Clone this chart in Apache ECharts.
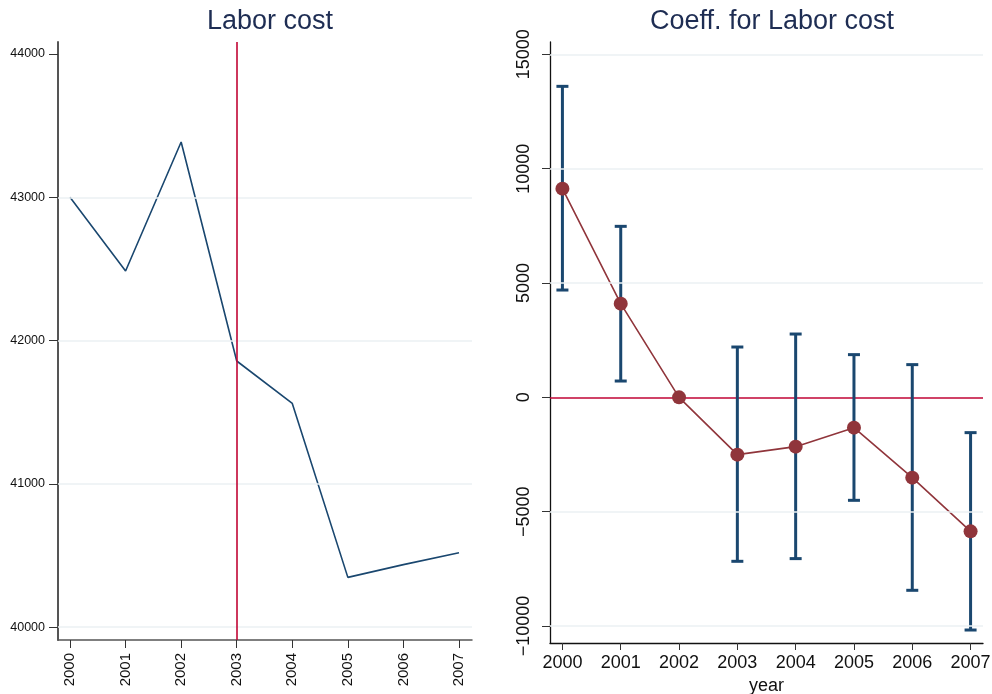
<!DOCTYPE html>
<html>
<head>
<meta charset="utf-8">
<script src="https://cdn.jsdelivr.net/npm/echarts@6/dist/echarts.min.js"></script>
<style>
  html, body { margin: 0; padding: 0; background: #fff; }
  #chart { width: 992px; height: 694px; }
</style>
</head>
<body>
<div id="chart"></div>
<script>
// Yearly categories shared by both panels
const years = [2000, 2001, 2002, 2003, 2004, 2005, 2006, 2007];

// Left panel: average labor cost per year
const laborCost = [43000, 42486, 43386, 41858, 41562, 40348, 40437, 40520];
const laborTicks = [40000, 41000, 42000, 43000, 44000];
const laborGrid = [40000, 41000, 42000, 43000];
const treatYear = 2003;

// Right panel: event-study coefficients with 95% confidence bounds
const coef  = [9125, 4097, 0, -2506, -2157, -1326, -3512, -5860];
const ciLow = [4692, 713, null, -7171, -7053, -4504, -8439, -10175];
const ciHigh = [13599, 7477, null, 2200, 2768, 1867, 1430, -1544];
const coefTicks = [-10000, -5000, 0, 5000, 10000, 15000];
const coefGrid = [-10000, -5000, 5000, 10000, 15000];

const NAVY = '#1a476f';
const MAROON = '#90353b';
const RED = '#c10534';
const GRIDC = '#ebf1f3';
const FONT = 'Liberation Sans, Arial, sans-serif';

const chart = echarts.init(document.getElementById('chart'), null, { renderer: 'canvas' });

const plain = v => String(v);
const minus = v => String(v).replace('-', '\u2212');

const option = {
  animation: false,
  backgroundColor: '#fff',
  textStyle: { fontFamily: FONT },
  title: [
    { text: 'Labor cost', left: 265, top: 3, textAlign: 'center',
      textStyle: { fontFamily: FONT, fontSize: 27, fontWeight: 'normal', color: '#1e2d53' } },
    { text: 'Coeff. for Labor cost', left: 767, top: 3, textAlign: 'center',
      textStyle: { fontFamily: FONT, fontSize: 27, fontWeight: 'normal', color: '#1e2d53' } }
  ],
  grid: [
    { left: 58, right: 520, top: 42, bottom: 54, outerBoundsMode: 'none' },
    { left: 550, right: 9, top: 42, bottom: 51, outerBoundsMode: 'none' }
  ],
  xAxis: [
    {
      gridIndex: 0, type: 'value', min: 1999.784, max: 2007.234,
      axisLine: { show: true, onZero: false, lineStyle: { color: '#555', width: 1.5 } },
      axisTick: { show: true, length: 8, customValues: years, lineStyle: { color: '#333' } },
      axisLabel: { customValues: years, rotate: 90, margin: 13, fontSize: 15, color: '#111',
        fontFamily: FONT, formatter: plain },
      splitLine: { show: false }
    },
    {
      gridIndex: 1, type: 'value', min: 1999.787, max: 2007.213,
      name: 'year', nameLocation: 'middle', nameGap: 33,
      nameTextStyle: { fontSize: 18, color: '#111', fontFamily: FONT },
      axisLine: { show: true, onZero: false, lineStyle: { color: '#111', width: 1.3 } },
      axisTick: { show: true, length: 7, customValues: years, lineStyle: { color: '#333' } },
      axisLabel: { customValues: years, margin: 11, fontSize: 18, color: '#111',
        fontFamily: FONT, formatter: plain },
      splitLine: { show: false }
    }
  ],
  yAxis: [
    {
      gridIndex: 0, type: 'value', min: 39911, max: 44084,
      axisLine: { show: true, onZero: false, lineStyle: { color: '#555', width: 2 } },
      axisTick: { show: true, length: 9, customValues: laborTicks, lineStyle: { color: '#333' } },
      axisLabel: { customValues: laborTicks, margin: 13, fontSize: 12.5, color: '#111',
        fontFamily: FONT, formatter: plain },
      splitLine: { show: false }
    },
    {
      gridIndex: 1, type: 'value', min: -10743, max: 15538,
      axisLine: { show: true, onZero: false, lineStyle: { color: '#111', width: 1.3 } },
      axisTick: { show: true, length: 8, customValues: coefTicks, lineStyle: { color: '#333' } },
      axisLabel: { customValues: coefTicks, rotate: 90, margin: 17, fontSize: 18, color: '#111',
        fontFamily: FONT, formatter: minus },
      splitLine: { show: false }
    }
  ],
  series: [
    // light horizontal reference lines, left panel
    {
      type: 'line', xAxisIndex: 0, yAxisIndex: 0, data: [], z: 1, silent: true,
      markLine: {
        silent: true, symbol: 'none', label: { show: false },
        lineStyle: { color: GRIDC, width: 1.5, type: 'solid' },
        data: laborGrid.map(v => ({ yAxis: v }))
      }
    },
    // light horizontal reference lines, right panel
    {
      type: 'line', xAxisIndex: 1, yAxisIndex: 1, data: [], z: 1, silent: true,
      markLine: {
        silent: true, symbol: 'none', label: { show: false },
        lineStyle: { color: GRIDC, width: 1.5, type: 'solid' },
        data: coefGrid.map(v => ({ yAxis: v }))
      }
    },
    // labor cost trend
    {
      name: 'Labor cost', type: 'line', xAxisIndex: 0, yAxisIndex: 0, z: 3,
      data: years.map((y, i) => [y, laborCost[i]]),
      symbol: 'none', lineStyle: { color: NAVY, width: 1.6 },
      markLine: {
        silent: true, symbol: 'none', label: { show: false },
        lineStyle: { color: RED, width: 1.6, type: 'solid' },
        data: [{ xAxis: treatYear }]
      }
    },
    // confidence intervals with caps
    {
      name: 'CI', type: 'custom', xAxisIndex: 1, yAxisIndex: 1, z: 3,
      data: years.map((y, i) => [y, ciLow[i], ciHigh[i]]).filter(d => d[1] !== null),
      renderItem: function (params, api) {
        const x = api.value(0);
        const lo = api.coord([x, api.value(1)]);
        const hi = api.coord([x, api.value(2)]);
        const half = 6;
        const style = { stroke: NAVY, lineWidth: 3, fill: null };
        return {
          type: 'group',
          children: [
            { type: 'line', shape: { x1: lo[0], y1: lo[1], x2: hi[0], y2: hi[1] }, style: style },
            { type: 'line', shape: { x1: lo[0] - half, y1: lo[1], x2: lo[0] + half, y2: lo[1] }, style: style },
            { type: 'line', shape: { x1: hi[0] - half, y1: hi[1], x2: hi[0] + half, y2: hi[1] }, style: style }
          ]
        };
      }
    },
    // point estimates
    {
      name: 'Coeff.', type: 'line', xAxisIndex: 1, yAxisIndex: 1, z: 4,
      data: years.map((y, i) => [y, coef[i]]),
      symbol: 'circle', symbolSize: 14,
      itemStyle: { color: MAROON },
      lineStyle: { color: MAROON, width: 1.6 },
      markLine: {
        silent: true, symbol: 'none', label: { show: false }, z: 2,
        lineStyle: { color: RED, width: 1.6, type: 'solid' },
        data: [{ yAxis: 0 }]
      }
    }
  ]
};

chart.setOption(option);
</script>
</body>
</html>
